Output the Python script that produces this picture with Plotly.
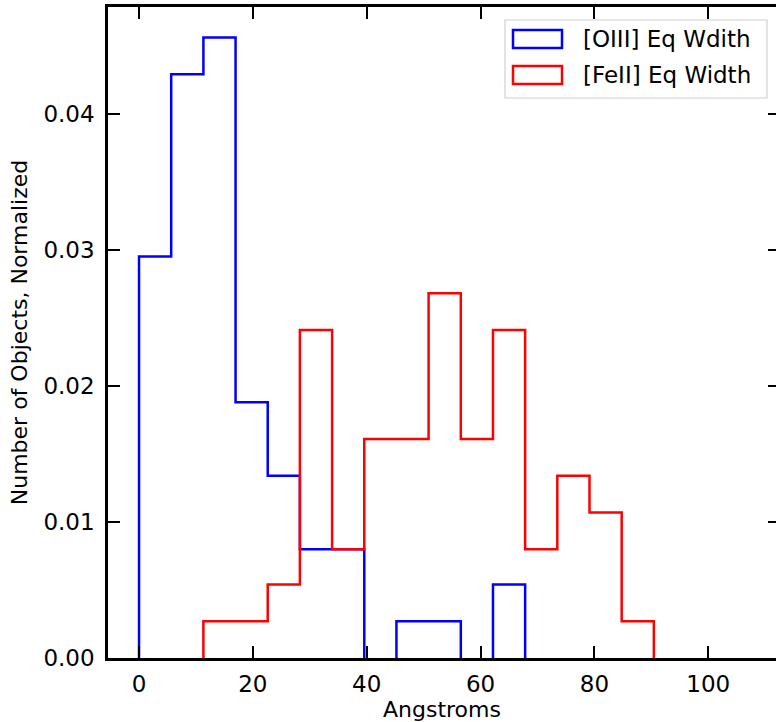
import plotly.graph_objects as go

# histogram bin edges (Angstroms), 19 bins
bin_edges = [0.0, 5.65, 11.31, 16.96, 22.61, 28.26, 33.92, 39.57, 45.22, 50.87,
             56.53, 62.18, 67.83, 73.48, 79.14, 84.79, 90.44, 96.09, 101.75, 107.4]

# normalized counts per bin
oiii_density = [0.0295, 0.0429, 0.0456, 0.0188, 0.0134, 0.0080, 0.0080, 0.0, 0.0027, 0.0027,
                0.0, 0.0054, 0.0, 0.0, 0.0, 0.0, 0.0, 0.0, 0.0]
feii_density = [0.0, 0.0, 0.0027, 0.0027, 0.0054, 0.0241, 0.0080, 0.0161, 0.0161, 0.0268,
                0.0161, 0.0241, 0.0080, 0.0134, 0.0107, 0.0027, 0.0, 0.0, 0.0]

series_names = ['[OIII] Eq Wdith', '[FeII] Eq Width']
series_colors = ['#0000ff', '#ff0000']

x_ticks = [0, 20, 40, 60, 80, 100]
y_ticks = [0.00, 0.01, 0.02, 0.03, 0.04]

W, H = 776, 722
L, R, T, B = 108, 0, 7, 64
FONT = 'DejaVu Sans'


def step_xy(edges, heights):
    # histtype='step' outline; the baseline runs are hidden under the spine
    # in the original, so they are left out here
    xs, ys = [], []
    prev = 0
    for i, h in enumerate(heights):
        if h == 0:
            if prev != 0:
                xs += [edges[i], edges[i], None]
                ys += [prev, 0, None]
        else:
            xs += [edges[i], edges[i], edges[i + 1]]
            ys += [prev, h, h]
        prev = h
    if prev != 0:
        xs += [edges[-1], edges[-1]]
        ys += [prev, 0]
    return xs, ys


fig = go.Figure()
for dens, name, col in zip([oiii_density, feii_density], series_names, series_colors):
    xs, ys = step_xy(bin_edges, dens)
    fig.add_trace(go.Scatter(x=xs, y=ys, mode='lines', connectgaps=False,
                             line=dict(color=col, width=2.5), name=name,
                             showlegend=False))

# right-hand ticks only (the right spine is cropped off in the original)
fig.add_trace(go.Scatter(x=[None], y=[None], yaxis='y2', showlegend=False))

axis_common = dict(showgrid=False, zeroline=False, showline=True, linecolor='black',
                   linewidth=2.5, ticks='inside', ticklen=12, tickwidth=2,
                   tickcolor='black', tickfont=dict(family=FONT, size=23, color='black'))

fig.update_layout(
    width=W, height=H,
    margin=dict(l=L, r=R, t=T, b=B),
    paper_bgcolor='white', plot_bgcolor='white',
    font=dict(family=FONT, color='black'),
    xaxis=dict(range=[-5.45, 111.9], tickvals=x_ticks, mirror='ticks',
               title=dict(text='Angstroms', font=dict(size=22), standoff=4),
               ticklabelstandoff=4, **axis_common),
    yaxis=dict(range=[0, 0.04784], tickvals=y_ticks, tickformat='.2f',
               title=dict(text='Number of Objects, Normalized', font=dict(size=22),
                          standoff=10),
               ticklabelstandoff=6, **axis_common),
    yaxis2=dict(overlaying='y', side='right', anchor='x', range=[0, 0.04784],
                tickvals=y_ticks, showticklabels=False, ticks='inside', ticklen=8,
                tickwidth=2, tickcolor='black', showgrid=False, zeroline=False,
                showline=False),
)


# manual legend with outlined rectangle patches
def px_x(p):
    return (p - L) / (W - L - R)


def px_y(p):
    return 1 - (p - T) / (H - T - B)


shapes = [dict(type='rect', xref='x domain', yref='y domain',
               x0=px_x(505), x1=px_x(767), y0=px_y(98), y1=px_y(20),
               line=dict(color='#d0d0d0', width=1.2), fillcolor='rgba(255,255,255,0.8)')]
annotations = []
for i, (name, col) in enumerate(zip(series_names, series_colors)):
    cy = 39 + 36 * i
    shapes.append(dict(type='rect', xref='x domain', yref='y domain',
                       x0=px_x(513), x1=px_x(562), y0=px_y(cy + 9), y1=px_y(cy - 9),
                       line=dict(color=col, width=2.5), fillcolor='rgba(0,0,0,0)'))
    annotations.append(dict(xref='x domain', yref='y domain', x=px_x(581), y=px_y(cy),
                            text=name, showarrow=False, xanchor='left', yanchor='middle',
                            font=dict(family=FONT, size=23, color='black')))
fig.update_layout(shapes=shapes, annotations=annotations)

# drop the default page margin so the figure sits at the window's corner
fig.write_html('out.html', config={'displayModeBar': False},
               post_script="document.body.style.margin='0';")
